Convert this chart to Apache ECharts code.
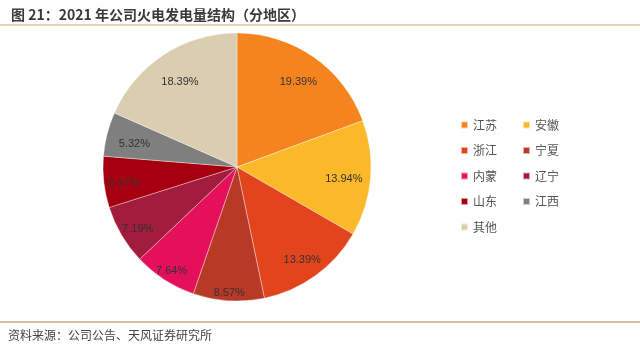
<!DOCTYPE html>
<html>
<head>
<meta charset="utf-8">
<script src="https://cdn.jsdelivr.net/npm/echarts@6/dist/echarts.min.js"></script>
<style>
html,body{margin:0;padding:0;background:#fff;}
#c{width:640px;height:349px;}
</style>
</head>
<body>
<div id="c"></div>
<script>
var categories = ['江苏','安徽','浙江','宁夏','内蒙','辽宁','山东','江西','其他'];
var shares = [19.39, 13.94, 13.39, 8.57, 7.64, 7.19, 6.17, 5.32, 18.39];
var titleText = '图 21：2021 年公司火电发电量结构（分地区）';
var sourceText = '资料来源：公司公告、天风证券研究所';

var colors = ['#f5841f','#fbb92a','#e2441b','#b83a26','#e5105a','#a21c3e','#a60010','#7f7f7f','#dacdb0'];
var labelRadiusFrac = [0.8,0.8,0.83,0.92,0.9,0.86,0.85,0.79,0.78];
var cx = 237, cy = 167, R = 134;

var total = shares.reduce(function(a,b){return a+b;},0);
var mids = [];
var acc = 0;
shares.forEach(function(v){ mids.push((acc + v/2)/total*2*Math.PI); acc += v; });

var chart = echarts.init(document.getElementById('c'), null, {renderer:'canvas'});
var legendStyle = {color:'#555', fontSize:12, fontFamily:'"Noto Sans CJK SC", sans-serif'};
chart.setOption({
  animation:false,
  color: colors,
  title:{
    text:titleText, left:6, top:3,
    textStyle:{fontSize:14, fontWeight:'bold', color:'#3a3a3a', fontFamily:'"Noto Sans CJK SC", sans-serif'}
  },
  graphic:[
    {type:'line', shape:{x1:0,y1:25,x2:640,y2:25}, style:{stroke:'#dcc49c', lineWidth:1.5}},
    {type:'line', shape:{x1:0,y1:322,x2:640,y2:322}, style:{stroke:'#c9ad7e', lineWidth:1.5}},
    {type:'text', left:8, top:329, style:{text:sourceText, fill:'#444', fontSize:12, fontFamily:'"Noto Sans CJK SC", sans-serif'}}
  ],
  legend:[
    {orient:'vertical', left:455, top:114, itemWidth:7, itemHeight:7, itemGap:13.5, icon:'rect',
     textStyle:legendStyle, data:[categories[0],categories[2],categories[4],categories[6],categories[8]]},
    {orient:'vertical', left:517, top:114, itemWidth:7, itemHeight:7, itemGap:13.5, icon:'rect',
     textStyle:legendStyle, data:[categories[1],categories[3],categories[5],categories[7]]}
  ],
  series:[{
    type:'pie',
    center:[cx, cy],
    radius:[0, R],
    startAngle:90,
    clockwise:true,
    avoidLabelOverlap:false,
    itemStyle:{borderColor:'rgba(255,255,255,0.6)', borderWidth:0.6},
    label:{
      show:true, position:'inside',
      formatter:function(p){return p.value.toFixed(2)+'%';},
      color:'#333', fontSize:11, fontFamily:'"Liberation Sans", Arial, sans-serif'
    },
    labelLayout:function(p){
      var i = p.dataIndex;
      var r = R*labelRadiusFrac[i];
      return {x: cx + Math.sin(mids[i])*r, y: cy + 3 - Math.cos(mids[i])*r, align:'center', verticalAlign:'middle'};
    },
    labelLine:{show:false},
    emphasis:{disabled:true},
    data: categories.map(function(n,i){return {name:n, value:shares[i]};})
  }]
});
</script>
</body>
</html>
